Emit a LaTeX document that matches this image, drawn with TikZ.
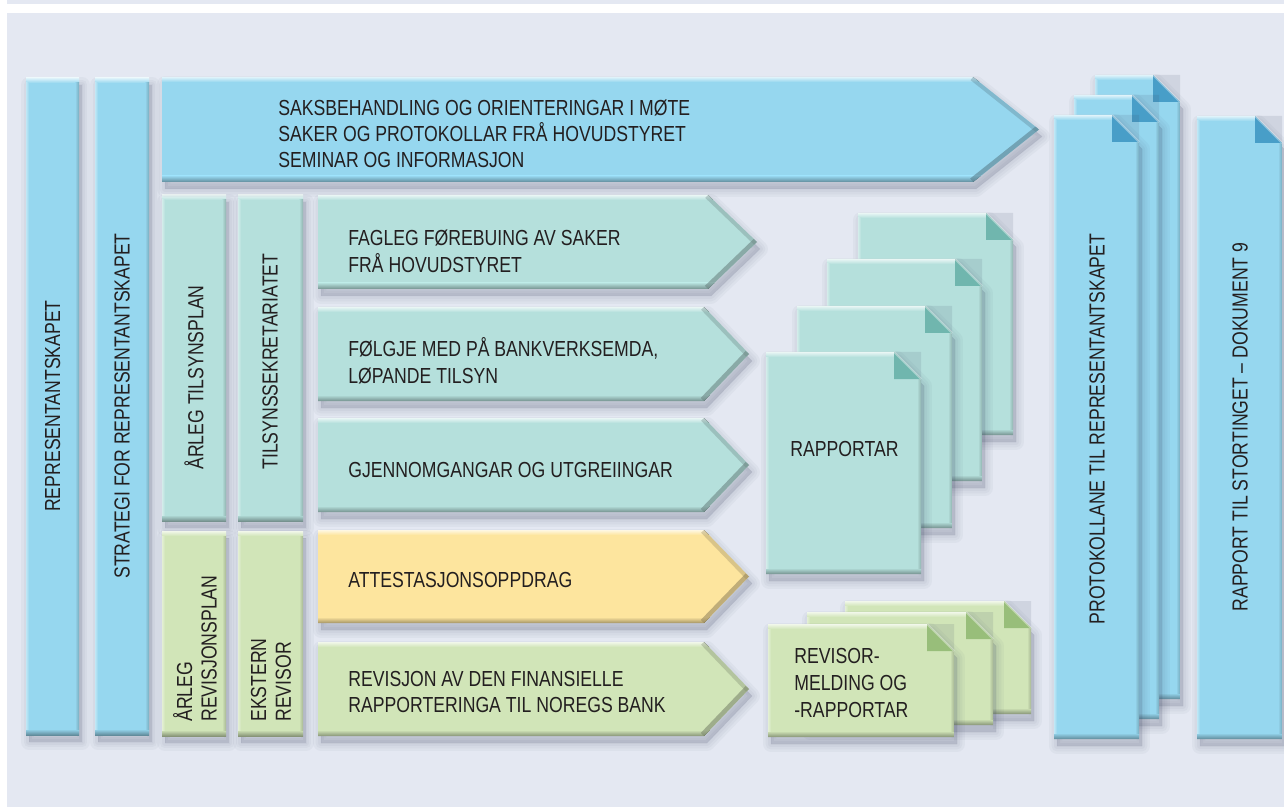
\documentclass[tikz,border=0pt]{standalone}
\usepackage{fontspec}
\newfontfamily\lblfont[FakeStretch=0.81]{Liberation Sans}
\usetikzlibrary{calc}
\definecolor{bgcol}{RGB}{228,232,242}
\definecolor{txtcol}{RGB}{35,31,32}
\definecolor{bluebox}{RGB}{150,215,239}
\definecolor{bluefold}{RGB}{72,158,200}
\definecolor{tealbox}{RGB}{181,224,220}
\definecolor{tealfold}{RGB}{112,182,174}
\definecolor{yellowbox}{RGB}{253,229,158}
\definecolor{greenbox}{RGB}{209,229,184}
\definecolor{greenfold}{RGB}{152,190,122}
\definecolor{shadowcol}{RGB}{60,70,100}
\def\px{0.5669pt}
\tikzset{
  lbl/.style={font=\lblfont\fontsize{12.4}{15.3}\selectfont,text=txtcol,inner sep=0pt,align=left,anchor=west},
  vlbl/.style={lbl,rotate=90},
  vlbl2/.style={vlbl,font=\lblfont\fontsize{12.4}{14}\selectfont},
}
% soft shadow under a shape
\newcommand\boxshadow[1]{
  \foreach \w in {16,11,6,1}{
    \filldraw[shadowcol,opacity=0.045,line width=\w*\px,line join=round,shift={(3,7)}] #1;
  }
}
% upright bar: corners (#1,#2) (#3,#4), colour #5
\newcommand\slab[5]{
  \boxshadow{(#1,#2) rectangle (#3,#4)}
  \fill[#5] (#1,#2) rectangle (#3,#4);
  \fill[top color=white!70!#5,bottom color=#5] (#1,#2) rectangle (#3,#2+5);
  \fill[top color=#5,bottom color=#5!65!black] (#1,#4-6) rectangle (#3,#4);
  \fill[left color=#5,right color=#5!80!black] (#3-4,#2+5) rectangle (#3,#4-6);
  \fill[left color=white!40!#5,right color=#5] (#1,#2+5) rectangle (#1+3,#4-6);
}
% arrow: left x, top y, body end x, tip x, bottom y, colour
\newcommand\arrowbox[6]{
  \boxshadow{(#1,#2) -- (#3,#2) -- (#4,{(#2+#5)/2}) -- (#3,#5) -- (#1,#5) -- cycle}
  \begin{scope}
    \clip (#1,#2) -- (#3,#2) -- (#4,{(#2+#5)/2}) -- (#3,#5) -- (#1,#5) -- cycle;
    \fill[#6] (#1,#2) rectangle (#4,#5);
    \fill[top color=white!70!#6,bottom color=#6] (#1,#2) rectangle (#4,#2+5);
    \fill[top color=#6,bottom color=#6!65!black] (#1,#5-6) rectangle (#4,#5);
    \draw[#6!60!black,line width=8*\px,opacity=0.35] (#3,#2) -- (#4,{(#2+#5)/2});
    \draw[#6!60!black,line width=9*\px,opacity=0.6] (#4,{(#2+#5)/2}) -- (#3,#5);
  \end{scope}
}
% sheet with folded corner: x, y, width, height, colour, fold colour
\newcommand\sheet[6]{
  \boxshadow{(#1,#2) -- (#1+#3-27,#2) -- (#1+#3,#2+27) -- (#1+#3,#2+#4) -- (#1,#2+#4) -- cycle}
  \begin{scope}
    \clip (#1,#2) -- (#1+#3-27,#2) -- (#1+#3,#2+27) -- (#1+#3,#2+#4) -- (#1,#2+#4) -- cycle;
    \fill[#5] (#1,#2) rectangle (#1+#3,#2+#4);
    \fill[top color=white!70!#5,bottom color=#5] (#1,#2) rectangle (#1+#3,#2+5);
    \fill[top color=#5,bottom color=#5!65!black] (#1,#2+#4-6) rectangle (#1+#3,#2+#4);
    \fill[left color=#5,right color=#5!80!black] (#1+#3-4,#2+5) rectangle (#1+#3,#2+#4-6);
    \fill[left color=white!40!#5,right color=#5] (#1,#2+5) rectangle (#1+3,#2+#4-6);
  \end{scope}
  \fill[shadowcol,opacity=0.12] (#1+#3-27,#2) -- (#1+#3,#2) -- (#1+#3,#2+27) -- cycle;
  \fill[#6] (#1+#3-27,#2) -- (#1+#3-27,#2+27) -- (#1+#3,#2+27) -- cycle;
  \draw[white,opacity=0.35,line width=2*\px] (#1+#3-27,#2) -- (#1+#3,#2+27);
}

\begin{document}
\begin{tikzpicture}[x=0.02cm,y=-0.02cm]
  \useasboundingbox (0,0) rectangle (1284,807);

  % BACKGROUND
  \fill[white] (0,0) rectangle (1284,807);
  \fill[bgcol] (7,0) rectangle (1284,4.5);
  \fill[bgcol] (7,13) rectangle (1284,807);

  % LEFT BARS
  \slab{26}{78}{79}{735}{bluebox}
  \slab{95}{78}{149}{735}{bluebox}
  \slab{162}{195}{226}{521}{tealbox}
  \slab{238}{195}{303}{521}{tealbox}
  \slab{162}{531}{226}{736}{greenbox}
  \slab{238}{531}{303}{736}{greenbox}

  % ARROWS
  \arrowbox{162}{77}{973}{1039}{182}{bluebox}
  \arrowbox{318}{195}{708}{757}{289}{tealbox}
  \arrowbox{318}{307}{704}{749}{401}{tealbox}
  \arrowbox{318}{418}{704}{749}{512}{tealbox}
  \arrowbox{318}{530}{704}{749}{623}{yellowbox}
  \arrowbox{318}{642}{704}{749}{736}{greenbox}

  % SHEETS
  \foreach \x/\y in {858/213,827/259,797/306,766/352}{
    \sheet{\x}{\y}{155}{222}{tealbox}{tealfold}
  }
  \foreach \x/\y in {845/601,807/612,768/624}{
    \sheet{\x}{\y}{186}{113}{greenbox}{greenfold}
  }
  \foreach \x/\y in {1095/75,1074/95,1054/115}{
    \sheet{\x}{\y}{85}{624}{bluebox}{bluefold}
  }
  \sheet{1197}{116}{85}{623}{bluebox}{bluefold}

  % TEXTS
  \node[vlbl,anchor=center] (repr) at (52.5,406) {REPRESENTANTSKAPET};
  \node[vlbl,anchor=center] (strategi) at (122,406) {STRATEGI FOR REPRESENTANTSKAPET};
  \node[vlbl] (tilsynsplan) at (194,470) {ÅRLEG TILSYNSPLAN};
  \node[vlbl] (sekretariat) at (270,470) {TILSYNSSEKRETARIATET};
  \node[vlbl2] (revplan) at (195,722) {ÅRLEG\\REVISJONSPLAN};
  \node[vlbl2] (revisor) at (271,722) {EKSTERN\\REVISOR};
  \node[lbl,font=\lblfont\fontsize{12.4}{14.7}\selectfont] (saker) at (278,134)
    {SAKSBEHANDLING OG ORIENTERINGAR I MØTE\\SAKER OG PROTOKOLLAR FRÅ HOVUDSTYRET\\SEMINAR OG INFORMASJON};
  \node[lbl] (fagleg) at (348,251) {FAGLEG FØREBUING AV SAKER\\FRÅ HOVUDSTYRET};
  \node[lbl] (folgje) at (348,361) {FØLGJE MED PÅ BANKVERKSEMDA,\\LØPANDE TILSYN};
  \node[lbl] (gjennom) at (348,470) {GJENNOMGANGAR OG UTGREIINGAR};
  \node[lbl] (attest) at (348,580) {ATTESTASJONSOPPDRAG};
  \node[lbl] (revisjon) at (348,692) {REVISJON AV DEN FINANSIELLE\\RAPPORTERINGA TIL NOREGS BANK};
  \node[lbl] (rapportar) at (790,449) {RAPPORTAR};
  \node[lbl] (melding) at (794,683) {REVISOR-\\MELDING OG\\-RAPPORTAR};
  \node[vlbl,anchor=center] (protokoll) at (1097,429) {PROTOKOLLANE TIL REPRESENTANTSKAPET};
  \node[vlbl,anchor=center] (stortinget) at (1240,427) {RAPPORT TIL STORTINGET – DOKUMENT 9};
\end{tikzpicture}
\end{document}
